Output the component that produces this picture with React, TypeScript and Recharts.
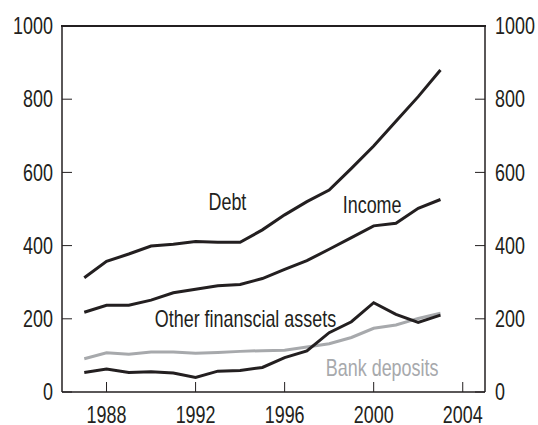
import { LineChart, Line, XAxis, YAxis, ReferenceDot } from 'recharts'

const years = [1987, 1988, 1989, 1990, 1991, 1992, 1993, 1994, 1995, 1996, 1997, 1998, 1999, 2000, 2001, 2002, 2003]
const debt = [312, 357, 377, 399, 404, 411, 409, 409, 443, 484, 520, 552, 611, 672, 740, 807, 880]
const income = [218, 237, 237, 251, 271, 281, 290, 294, 310, 335, 359, 390, 422, 454, 461, 502, 526]
const otherAssets = [53, 63, 53, 55, 52, 40, 57, 59, 67, 94, 112, 162, 192, 244, 212, 190, 210]
const bankDeposits = [91, 107, 103, 109, 109, 106, 108, 111, 113, 114, 123, 132, 149, 174, 183, 201, 215]

const xTicks = [1988, 1992, 1996, 2000, 2004]
const yTicks = [0, 200, 400, 600, 800, 1000]

// series labels, placed in data units
const annotations = [
  { text: 'Debt', year: 1993.43, value: 520, color: '#231f20' },
  { text: 'Income', year: 1999.93, value: 511, color: '#231f20' },
  { text: 'Other finanscial assets', year: 1994.24, value: 201, color: '#231f20' },
  { text: 'Bank deposits', year: 2000.38, value: 65, color: '#a7a9ac' },
]

const data = years.map((year, i) => ({
  year,
  debt: debt[i],
  income: income[i],
  other: otherAssets[i],
  bank: bankDeposits[i],
}))

const INK = '#231f20'
const TICK_LEN = 10
const SQUEEZE = 0.78 // the original uses a narrow face
const PLOT = { left: 62, top: 26, right: 53, bottom: 33 }

// narrow text: Liberation Sans squeezed horizontally
function NarrowText({ x, y, anchor, dy, fill = INK, children }: any) {
  return (
    <text
      transform={`translate(${x},${y}) scale(${SQUEEZE},1)`}
      dy={dy}
      textAnchor={anchor}
      fill={fill}
      fontSize={23}
      fontFamily="'Liberation Sans', Arial, sans-serif"
    >
      {children}
    </text>
  )
}

function LeftTick({ x, y, payload }: any) {
  return (
    <g>
      <line x1={x + 9} x2={x + 9 + TICK_LEN} y1={y} y2={y} stroke={INK} strokeWidth={1} />
      <NarrowText x={x} y={y} dy="0.355em" anchor="end">{payload.value}</NarrowText>
    </g>
  )
}

function RightTick({ x, y, payload }: any) {
  return (
    <g>
      <line x1={x - 10} x2={x - 10 - TICK_LEN} y1={y} y2={y} stroke={INK} strokeWidth={1} />
      <NarrowText x={x} y={y} dy="0.355em" anchor="start">{payload.value}</NarrowText>
    </g>
  )
}

function BottomTick({ x, y, payload }: any) {
  return (
    <g>
      <line x1={x} x2={x} y1={y - 15} y2={y - 15 - TICK_LEN} stroke={INK} strokeWidth={1} />
      <NarrowText x={x} y={y} dy="0.71em" anchor="middle">{payload.value}</NarrowText>
    </g>
  )
}

function seriesLabel(text: string, color: string) {
  return (props: any) => {
    const vb = props.viewBox || {}
    const cx = (vb.x ?? 0) + (vb.width ?? 0) / 2
    const cy = (vb.y ?? 0) + (vb.height ?? 0) / 2
    return (
      <NarrowText x={cx} y={cy} dy="0.355em" anchor="middle" fill={color}>
        {text}
      </NarrowText>
    )
  }
}

export default function App() {
  return (
    <div style={{ position: 'relative', width: 538, height: 425, background: '#fff' }}>
      <style>{'body{margin:0}'}</style>
      <LineChart width={538} height={425} data={data} margin={{ top: PLOT.top, right: 0, left: 0, bottom: 0 }}>
        <XAxis
          dataKey="year"
          type="number"
          domain={[1986, 2005]}
          ticks={xTicks}
          height={PLOT.bottom}
          tickSize={0}
          tickMargin={15}
          tickLine={false}
          axisLine={{ stroke: INK, strokeWidth: 1.5 }}
          tick={<BottomTick />}
        />
        <YAxis
          yAxisId="left"
          domain={[0, 1000]}
          ticks={yTicks}
          width={PLOT.left}
          tickSize={0}
          tickMargin={9}
          tickLine={false}
          axisLine={{ stroke: INK, strokeWidth: 1.5 }}
          tick={<LeftTick />}
        />
        <YAxis
          yAxisId="right"
          orientation="right"
          domain={[0, 1000]}
          ticks={yTicks}
          width={PLOT.right}
          tickSize={0}
          tickMargin={10}
          tickLine={false}
          axisLine={{ stroke: INK, strokeWidth: 1.5 }}
          tick={<RightTick />}
        />
        <Line yAxisId="right" dataKey="bank" stroke="#a7a9ac" strokeWidth={3} dot={false} isAnimationActive={false} />
        <Line yAxisId="left" dataKey="other" stroke={INK} strokeWidth={3} dot={false} isAnimationActive={false} />
        <Line yAxisId="left" dataKey="income" stroke={INK} strokeWidth={3} dot={false} isAnimationActive={false} />
        <Line yAxisId="left" dataKey="debt" stroke={INK} strokeWidth={3} dot={false} isAnimationActive={false} />
        {annotations.map((a) => (
          <ReferenceDot
            key={a.text}
            yAxisId="left"
            x={a.year}
            y={a.value}
            r={0}
            stroke="none"
            fill="none"
            ifOverflow="visible"
            label={seriesLabel(a.text, a.color)}
          />
        ))}
      </LineChart>
      {/* top edge of the frame */}
      <div
        style={{
          position: 'absolute',
          zIndex: 5,
          left: PLOT.left - 1,
          top: PLOT.top - 1,
          width: 538 - PLOT.left - PLOT.right + 2,
          height: 2,
          background: INK,
        }}
      />
    </div>
  )
}
